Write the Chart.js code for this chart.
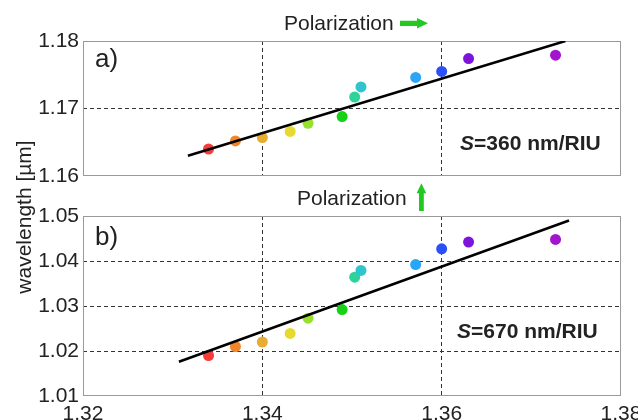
<!DOCTYPE html>
<html>
<head>
<meta charset="utf-8">
<script src="https://cdn.jsdelivr.net/npm/chart.js@4"></script>
<style>
  body { margin: 0; background: #fff; }
  #wrap { position: relative; width: 638px; height: 420px; overflow: hidden; font-family: "Liberation Sans", Arial, sans-serif; color: #222; }
  canvas { position: absolute; left: 0; top: 0; }
  .txt { position: absolute; white-space: nowrap; line-height: 1; }
  svg { position: absolute; left: 0; top: 0; }
</style>
</head>
<body>
<div id="wrap">
  <canvas id="chartA" width="700" height="440"></canvas>
  <canvas id="chartB" width="700" height="440"></canvas>
  <svg width="638" height="420">
    <polygon points="400,20.7 417,20.7 417,18 428,23.3 417,28.6 417,25.9 400,25.9" fill="#22c922"/>
    <polygon points="421.4,183.3 426.2,193.3 423.8,193.3 423.8,211 419,211 419,193.3 416.6,193.3" fill="#22c922"/>
  </svg>
  <div class="txt" style="left:284px; top:12px; font-size:21px;">Polarization</div>
  <div class="txt" style="left:297px; top:187px; font-size:21px;">Polarization</div>
  <div class="txt" style="left:95px; top:45px; font-size:26px;">a)</div>
  <div class="txt" style="left:95px; top:223px; font-size:26px;">b)</div>
  <div class="txt" style="left:460px; top:132px; font-size:21px; font-weight:bold;"><i>S</i>=360 nm/RIU</div>
  <div class="txt" style="left:457px; top:320px; font-size:21px; font-weight:bold;"><i>S</i>=670 nm/RIU</div>
  <div class="txt" style="left:23px; top:217px; font-size:21px; transform: translate(-50%, -50%) rotate(-90deg);">wavelength [µm]</div>
</div>
<script>
// refractive index of the surrounding medium
const refractiveIndex = [1.3340, 1.3370, 1.3400, 1.3431, 1.3451, 1.3489, 1.3503, 1.3510, 1.3571, 1.3600, 1.3630, 1.3727];
// resonance wavelength, panel a (µm)
const wavelengthA = [1.1640, 1.1652, 1.1657, 1.1666, 1.1678, 1.1688, 1.1717, 1.1732, 1.1746, 1.1755, 1.1774, 1.1779];
// resonance wavelength, panel b (µm)
const wavelengthB = [1.0190, 1.0210, 1.0220, 1.0239, 1.0273, 1.0292, 1.0364, 1.0379, 1.0392, 1.0427, 1.0442, 1.0448];
const pointColors = ['#f53c3c', '#f0862c', '#e8ac33', '#e6da30', '#98e02e', '#16d216', '#2dd39a', '#2ec6cc', '#2aa6f8', '#2b50f8', '#7d14db', '#a414d0'];
// linear fits
const fitAx = [1.3317, 1.3738];
const fitAy = [1.1630, 1.1800];
const fitBx = [1.3307, 1.3742];
const fitBy = [1.0176, 1.0490];
const xTicks = [1.32, 1.34, 1.36, 1.38];
const yTicksA = [1.16, 1.17, 1.18];
const yTicksB = [1.01, 1.02, 1.03, 1.04, 1.05];

const tickFont = { family: '"Liberation Sans", Arial, sans-serif', size: 21 };

// frame around the plot area
const framePlugin = {
    id: 'frame',
    beforeDatasetsDraw(chart) {
        const a = chart.chartArea;
        const c = chart.ctx;
        c.save();
        c.strokeStyle = '#9a9a9a';
        c.lineWidth = 1;
        c.strokeRect(a.left + 0.5, a.top + 0.5, a.right - a.left - 1, a.bottom - a.top - 1);
        c.restore();
    }
};

function innerGrid(count) {
    return ctx => (ctx.index === 0 || ctx.index === count - 1) ? 'rgba(0,0,0,0)' : '#333';
}

// canvas is 700x440, the visible page window crops it to 638x420
function makeChart(id, yVals, fitX, fitY, yTicks, padTop, padBottom, xHeight, showX) {
    const points = refractiveIndex.map((x, i) => ({ x: x, y: yVals[i] }));
    const fit = fitX.map((x, i) => ({ x: x, y: fitY[i] }));
    return new Chart(document.getElementById(id), {
        type: 'scatter',
        data: {
            datasets: [
                {
                    type: 'line',
                    data: fit,
                    borderColor: '#000',
                    borderWidth: 2.5,
                    pointRadius: 0,
                    fill: false
                },
                {
                    data: points,
                    pointBackgroundColor: pointColors,
                    pointBorderWidth: 0,
                    pointRadius: 5.5
                }
            ]
        },
        options: {
            responsive: false,
            animation: false,
            layout: { autoPadding: false, padding: { left: 0, right: 79, top: padTop, bottom: padBottom } },
            plugins: { legend: { display: false }, tooltip: { enabled: false } },
            scales: {
                x: {
                    type: 'linear',
                    min: xTicks[0],
                    max: xTicks[xTicks.length - 1],
                    afterBuildTicks: s => { s.ticks = xTicks.map(v => ({ value: v })); },
                    afterFit: s => { s.height = xHeight; },
                    grid: { color: innerGrid(xTicks.length), drawTicks: false, lineWidth: 1 },
                    border: { display: false, dash: [4, 3] },
                    ticks: {
                        display: showX,
                        padding: 6,
                        color: '#222',
                        font: tickFont,
                        maxRotation: 0,
                        callback: v => v.toFixed(2)
                    }
                },
                y: {
                    type: 'linear',
                    min: yTicks[0],
                    max: yTicks[yTicks.length - 1],
                    afterBuildTicks: s => { s.ticks = yTicks.map(v => ({ value: v })); },
                    afterFit: s => { s.width = 83; },
                    grid: { color: innerGrid(yTicks.length), drawTicks: false, lineWidth: 1 },
                    border: { display: false, dash: [4, 3] },
                    ticks: {
                        padding: 4,
                        color: '#222',
                        font: tickFont,
                        callback: v => v.toFixed(2)
                    }
                }
            }
        },
        plugins: [framePlugin]
    });
}

makeChart('chartA', wavelengthA, fitAx, fitAy, yTicksA, 41, 264, 0, false);
makeChart('chartB', wavelengthB, fitBx, fitBy, yTicksB, 216, 20, 24, true);
</script>
</body>
</html>
